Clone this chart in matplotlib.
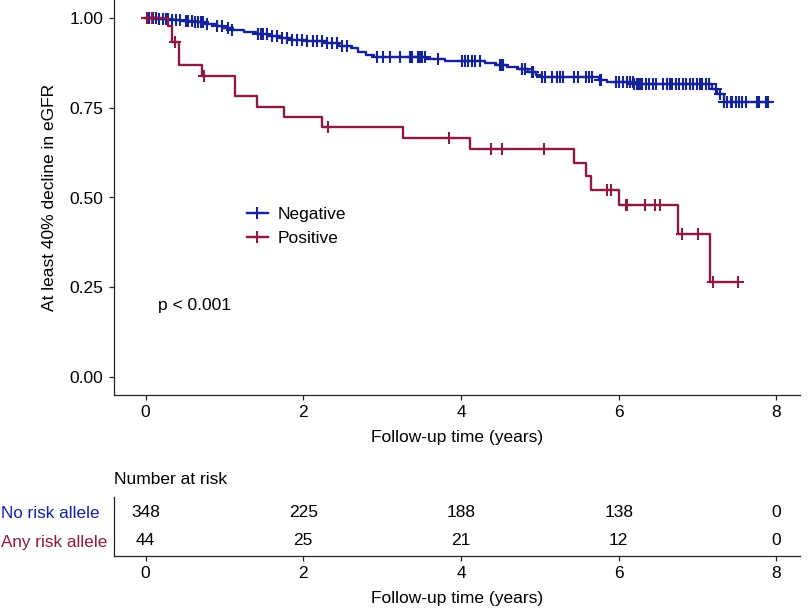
import numpy as np
import matplotlib
matplotlib.use('Agg')
import matplotlib.pyplot as plt
from matplotlib.lines import Line2D

plt.rcParams['font.family'] = ['Liberation Sans', 'DejaVu Sans']

# Kaplan-Meier step data
neg_times = [0, 0.15, 0.3, 0.45, 0.6, 0.75, 0.9, 1.0, 1.1, 1.25, 1.4, 1.55, 1.7, 1.85,
             2.05, 2.3, 2.45, 2.6, 2.7, 2.8, 2.9, 3.55, 3.8, 4.3, 4.45, 4.58, 4.72,
             4.85, 4.95, 5.02, 5.75, 5.85, 6.2, 7.18, 7.25, 7.33]
neg_surv = [1.0, 0.997, 0.994, 0.991, 0.988, 0.983, 0.978, 0.972, 0.967, 0.961, 0.955,
            0.950, 0.944, 0.940, 0.935, 0.929, 0.922, 0.915, 0.905, 0.898, 0.891, 0.886,
            0.880, 0.875, 0.869, 0.864, 0.858, 0.850, 0.842, 0.835, 0.828, 0.822, 0.815,
            0.801, 0.787, 0.766]
neg_end = 7.9
neg_censor = [0.03, 0.05, 0.08, 0.10, 0.13, 0.17, 0.22, 0.26, 0.29, 0.34, 0.38, 0.44,
              0.51, 0.54, 0.59, 0.63, 0.67, 0.70, 0.73, 0.78, 0.91, 0.97, 1.04, 1.10,
              1.42, 1.46, 1.49, 1.54, 1.61, 1.67, 1.73, 1.80, 1.86, 1.92, 1.99, 2.05,
              2.12, 2.18, 2.24, 2.30, 2.37, 2.43, 2.49, 2.56, 2.94, 3.01, 3.10, 3.23,
              3.35, 3.38, 3.46, 3.48, 3.51, 3.54, 3.71, 4.01, 4.05, 4.09, 4.14, 4.18,
              4.24, 4.49, 4.52, 4.53, 4.77, 4.78, 4.81, 4.90, 4.91, 5.03, 5.06, 5.15,
              5.22, 5.25, 5.29, 5.44, 5.48, 5.59, 5.63, 5.66, 5.76, 5.78, 5.97, 6.01,
              6.05, 6.10, 6.14, 6.18, 6.20, 6.23, 6.24, 6.27, 6.30, 6.35, 6.39, 6.43,
              6.48, 6.56, 6.61, 6.65, 6.68, 6.73, 6.77, 6.81, 6.86, 6.90, 6.94, 6.99,
              7.03, 7.06, 7.11, 7.15, 7.24, 7.28, 7.34, 7.38, 7.43, 7.44, 7.49, 7.53,
              7.57, 7.62, 7.75, 7.78, 7.87, 7.90]

pos_times = [0, 0.29, 0.33, 0.42, 0.72, 1.14, 1.41, 1.76, 2.24, 3.27, 4.12, 5.44, 5.58,
             5.65, 6.01, 6.75, 7.16]
pos_surv = [1.0, 0.977, 0.932, 0.869, 0.838, 0.783, 0.752, 0.724, 0.696, 0.666, 0.635,
            0.596, 0.560, 0.521, 0.479, 0.398, 0.265]
pos_end = 7.51
pos_censor = [0.02, 0.08, 0.37, 0.74, 2.32, 3.85, 4.38, 4.52, 5.05, 5.85, 5.90, 6.09,
              6.10, 6.34, 6.46, 6.53, 6.80, 7.01, 7.20, 7.51]

risk_ticks = [0, 2, 4, 6, 8]
risk_neg = [348, 225, 188, 138, 0]
risk_pos = [44, 25, 21, 12, 0]

blue = '#14239c'
red = '#8c1a45'
fs = 12.5


def step_value(times, surv, t):
    idx = np.searchsorted(times, t, side='right') - 1
    return np.array(surv)[idx]


fig = plt.figure(figsize=(8.1, 6.14), dpi=100)
ax = fig.add_axes([114 / 810, 1 - 395 / 614, 686 / 810, 395 / 614])
ax2 = fig.add_axes([114 / 810, 1 - 556 / 614, 686 / 810, 59 / 614])

for times, surv, end, cens, col in [(neg_times, neg_surv, neg_end, neg_censor, blue),
                                    (pos_times, pos_surv, pos_end, pos_censor, red)]:
    ax.step(list(times) + [end], list(surv) + [surv[-1]], where='post', color=col, lw=1.7)
    ax.plot(cens, step_value(times, surv, cens), ls='none', marker='+', ms=9, mew=1.5,
            color=col)

ax.set_xlim(-0.4, 8.3)
ax.set_ylim(-0.05, 1.05)
ax.set_xticks(risk_ticks)
ax.set_yticks([0, 0.25, 0.5, 0.75, 1.0])
ax.set_yticklabels(['0.00', '0.25', '0.50', '0.75', '1.00'])
ax.set_xlabel('Follow-up time (years)', fontsize=fs, labelpad=7)
ax.set_ylabel('At least 40% decline in eGFR', fontsize=fs, labelpad=9)
ax.text(0.16, 0.2, 'p < 0.001', fontsize=fs, va='center', ha='left')

handles = [Line2D([], [], color=blue, lw=1.7, marker='+', ms=9, mew=1.5),
           Line2D([], [], color=red, lw=1.7, marker='+', ms=9, mew=1.5)]
fig.legend(handles, ['Negative', 'Positive'], loc='upper left',
           bbox_to_anchor=(247 / 810, 1 - 207 / 614), frameon=False, fontsize=fs,
           borderpad=0, borderaxespad=0, handlelength=1.2, handletextpad=0.55,
           labelspacing=0.5)

# risk table
for i, t in enumerate(risk_ticks):
    ax2.text(t, 2, str(risk_neg[i]), ha='center', va='center', fontsize=fs)
    ax2.text(t, 1, str(risk_pos[i]), ha='center', va='center', fontsize=fs)
ax2.set_xlim(-0.4, 8.3)
ax2.set_ylim(0.46, 2.57)
ax2.set_xticks(risk_ticks)
ax2.set_yticks([])
ax2.set_xlabel('Follow-up time (years)', fontsize=fs, labelpad=7)
ax2.annotate('Number at risk', xy=(0, 1), xycoords='axes fraction', xytext=(0, 7),
             textcoords='offset points', ha='left', va='bottom', fontsize=fs)
fig.text(1 / 810, 1 - 514 / 614, 'No risk allele', color=blue, fontsize=12.3,
         ha='left', va='center')
fig.text(1 / 810, 1 - 542 / 614, 'Any risk allele', color=red, fontsize=12.3,
         ha='left', va='center')

for a in (ax, ax2):
    for s in ['top', 'right']:
        a.spines[s].set_visible(False)
    for s in ['left', 'bottom']:
        a.spines[s].set_color('#222222')
        a.spines[s].set_linewidth(0.9)
    a.tick_params(axis='both', labelsize=fs, length=3.5, width=0.9, color='#222222',
                  pad=4)

fig.savefig('out.png', dpi=100)
